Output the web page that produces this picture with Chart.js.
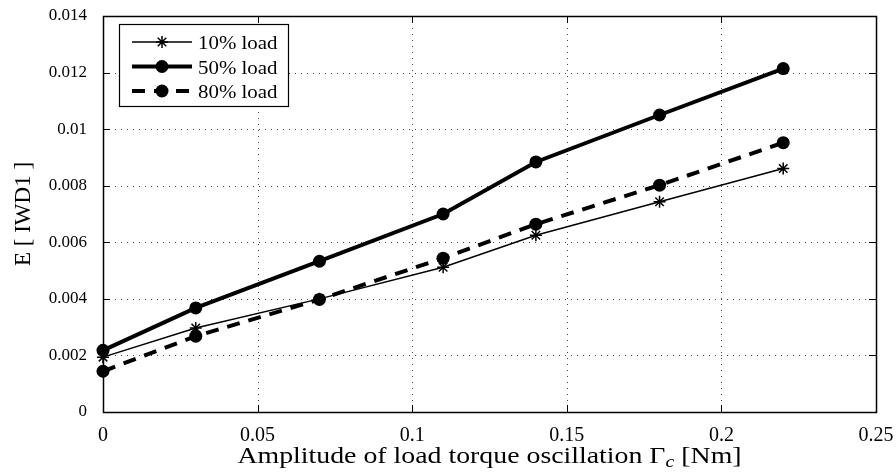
<!DOCTYPE html>
<html>
<head>
<meta charset="utf-8">
<script src="https://cdn.jsdelivr.net/npm/chart.js@4/dist/chart.umd.min.js"></script>
<style>
  body { margin: 0; background: #fff; }
  canvas { display: block; }
</style>
</head>
<body>
<canvas id="errChart" width="896" height="474"></canvas>
<script>
// values
const amplitudes = [0, 0.03, 0.07, 0.11, 0.14, 0.18, 0.22];
const load10 = [0.00194, 0.00297, 0.0040, 0.00512, 0.00625, 0.00743, 0.00861];
const load50 = [0.00218, 0.00368, 0.00533, 0.0070, 0.00884, 0.0105, 0.01214];
const load80 = [0.00144, 0.00268, 0.00398, 0.00544, 0.00664, 0.00802, 0.00952];
const seriesNames = ['10% load', '50% load', '80% load'];
const xTickLabels = ['0', '0.05', '0.1', '0.15', '0.2', '0.25'];
const yTickLabels = ['0', '0.002', '0.004', '0.006', '0.008', '0.01', '0.012', '0.014'];

const serif = '"Liberation Serif", "Times New Roman", serif';

function toPoints(vals) {
    return amplitudes.map((x, i) => ({ x: x, y: vals[i] }));
}

// marker for legend, same look as the chart ones
function drawMarker(ctx, style, x, y, r) {
    ctx.save();
    ctx.setLineDash([]);
    if (style === 'star') {
        ctx.lineWidth = 1.5;
        ctx.beginPath();
        for (let k = 0; k < 4; k++) {
            const a = k * Math.PI / 4;
            ctx.moveTo(x - r * Math.cos(a), y - r * Math.sin(a));
            ctx.lineTo(x + r * Math.cos(a), y + r * Math.sin(a));
        }
        ctx.stroke();
    } else {
        ctx.beginPath();
        ctx.arc(x, y, r, 0, Math.PI * 2);
        ctx.fill();
    }
    ctx.restore();
}

// stretched text, the original uses a wider serif
function wideText(ctx, txt, x, y, sx) {
    ctx.save();
    ctx.translate(x, y);
    ctx.scale(sx, 1);
    ctx.fillText(txt, 0, 0);
    ctx.restore();
    return ctx.measureText(txt).width * sx;
}

const framePlugin = {
    id: 'frame',
    beforeDatasetsDraw(chart) {
        const { ctx, chartArea: a, scales } = chart;
        ctx.save();
        ctx.strokeStyle = '#444';
        ctx.lineWidth = 1;
        ctx.setLineDash([1, 5]);
        scales.x.ticks.forEach(t => {
            const px = Math.round(scales.x.getPixelForValue(t.value)) + 0.5;
            ctx.beginPath(); ctx.moveTo(px, a.top); ctx.lineTo(px, a.bottom); ctx.stroke();
        });
        scales.y.ticks.forEach(t => {
            const py = Math.round(scales.y.getPixelForValue(t.value)) + 0.5;
            ctx.beginPath(); ctx.moveTo(a.left, py); ctx.lineTo(a.right, py); ctx.stroke();
        });
        ctx.setLineDash([]);
        ctx.strokeStyle = '#000';
        // inward ticks on all sides
        scales.x.ticks.forEach(t => {
            const px = Math.round(scales.x.getPixelForValue(t.value)) + 0.5;
            ctx.beginPath();
            ctx.moveTo(px, a.bottom); ctx.lineTo(px, a.bottom - 7);
            ctx.moveTo(px, a.top); ctx.lineTo(px, a.top + 7);
            ctx.stroke();
        });
        scales.y.ticks.forEach(t => {
            const py = Math.round(scales.y.getPixelForValue(t.value)) + 0.5;
            ctx.beginPath();
            ctx.moveTo(a.left, py); ctx.lineTo(a.left + 7, py);
            ctx.moveTo(a.right, py); ctx.lineTo(a.right - 7, py);
            ctx.stroke();
        });
        ctx.lineWidth = 1.5;
        ctx.strokeRect(Math.round(a.left) + 0.5, Math.round(a.top) + 0.5,
            Math.round(a.right - a.left), Math.round(a.bottom - a.top));
        ctx.restore();
    },
    afterDraw(chart) {
        const { ctx, chartArea: a } = chart;
        ctx.save();
        // legend box
        const bx = 119, by = 24, bw = 169, bh = 82;
        ctx.fillStyle = '#fff';
        ctx.fillRect(bx, by, bw, bh);
        ctx.strokeStyle = '#000';
        ctx.lineWidth = 1.2;
        ctx.strokeRect(bx + 0.5, by + 0.5, bw, bh);
        chart.data.datasets.forEach((ds, i) => {
            const y = by + 18 + i * 24.5;
            ctx.strokeStyle = '#000';
            ctx.fillStyle = '#000';
            ctx.lineWidth = ds.borderWidth;
            ctx.setLineDash(ds.borderDash || []);
            ctx.beginPath();
            ctx.moveTo(bx + 13, y);
            ctx.lineTo(bx + 73, y);
            ctx.stroke();
            drawMarker(ctx, ds.pointStyle, bx + 43, y, ds.pointRadius);
            ctx.font = '19px ' + serif;
            ctx.textBaseline = 'alphabetic';
            ctx.textAlign = 'left';
            wideText(ctx, ds.label, bx + 79, y + 7, 1.1);
        });
        // x axis title with subscript
        const y0 = 463;
        const fs = 23;
        const sx = 1.21;
        const p1 = 'Amplitude of load torque oscillation \u0393';
        const p2 = 'c';
        const p3 = ' [Nm]';
        ctx.fillStyle = '#000';
        ctx.textBaseline = 'alphabetic';
        ctx.font = fs + 'px ' + serif;
        const w1 = ctx.measureText(p1).width * sx, w3 = ctx.measureText(p3).width * sx;
        ctx.font = 'italic ' + (fs * 0.72) + 'px ' + serif;
        const w2 = ctx.measureText(p2).width * sx;
        let x = (a.left + a.right) / 2 - (w1 + w2 + w3) / 2;
        ctx.font = fs + 'px ' + serif;
        x += wideText(ctx, p1, x, y0, sx);
        ctx.font = 'italic ' + (fs * 0.72) + 'px ' + serif;
        x += wideText(ctx, p2, x, y0 + 4, sx);
        ctx.font = fs + 'px ' + serif;
        wideText(ctx, p3, x, y0, sx);
        ctx.restore();
    }
};

const ctx = document.getElementById('errChart').getContext('2d');
const errChart = new Chart(ctx, {
    type: 'line',
    data: {
        datasets: [{
            label: seriesNames[0],
            data: toPoints(load10),
            borderColor: '#000',
            backgroundColor: '#000',
            borderWidth: 1.5,
            pointStyle: 'star',
            pointRadius: 6,
            pointBorderWidth: 1.5,
            clip: false
        }, {
            label: seriesNames[1],
            data: toPoints(load50),
            borderColor: '#000',
            backgroundColor: '#000',
            borderWidth: 4,
            pointStyle: 'circle',
            pointRadius: 6.5,
            pointBorderWidth: 0,
            clip: false
        }, {
            label: seriesNames[2],
            data: toPoints(load80),
            borderColor: '#000',
            backgroundColor: '#000',
            borderWidth: 4,
            borderDash: [13, 9],
            pointStyle: 'circle',
            pointRadius: 6.5,
            pointBorderWidth: 0,
            clip: false
        }]
    },
    options: {
        responsive: false,
        animation: false,
        layout: { padding: { top: 16, right: 20, left: 0, bottom: 0 } },
        plugins: {
            legend: { display: false },
            tooltip: { enabled: false }
        },
        scales: {
            x: {
                type: 'linear',
                min: 0,
                max: 0.25,
                ticks: {
                    stepSize: 0.05,
                    color: '#000',
                    padding: 0,
                    font: { family: serif, size: 20 },
                    callback: (v, i) => xTickLabels[i]
                },
                // invisible tick marks only used to push the labels away
                grid: { display: true, drawOnChartArea: false, drawTicks: true, tickLength: 12, color: 'rgba(0,0,0,0)' },
                border: { display: false },
                afterFit: s => { s.height = 62; }
            },
            y: {
                min: 0,
                max: 0.014,
                title: {
                    display: true,
                    text: 'E [ IWD1 ]',
                    color: '#000',
                    font: { family: serif, size: 23 },
                    padding: { top: 10, bottom: 6 }
                },
                ticks: {
                    stepSize: 0.002,
                    color: '#000',
                    padding: 0,
                    font: { family: serif, size: 17 },
                    callback: (v, i) => yTickLabels[i]
                },
                grid: { display: true, drawOnChartArea: false, drawTicks: true, tickLength: 16, color: 'rgba(0,0,0,0)' },
                border: { display: false },
                afterFit: s => { s.width = 103; }
            }
        }
    },
    plugins: [framePlugin]
});
</script>
</body>
</html>
